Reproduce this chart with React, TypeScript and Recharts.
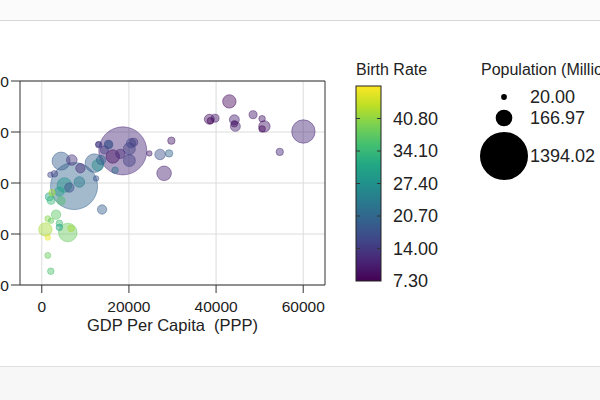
import React from 'react';
import { ScatterChart, Scatter, XAxis, YAxis, ZAxis, CartesianGrid, Cell, ReferenceLine } from 'recharts';

// ---- data ----
const gdpPerCapita = [43050, 38460, 38700, 39770, 44200, 44430, 44200, 48490, 50560, 51090, 50560, 54620, 60040, 18590, 15290, 12990, 14370, 16300, 18040, 20100, 20490, 21110, 20100, 16820, 13610, 12850, 12070, 12460, 24690, 27150, 29220, 29740, 28070, 4430, 6890, 8860, 2890, 1970, 13080, 15380, 7410, 5190, 4040, 6330, 8630, 2360, 1740, 2130, 4430, 13840, 3280, 1380, 2130, 4040, 4040, 830, 5970, 6720, 1380, 1380, 2070];
const lifeExpectancy = [76.0, 72.5, 72.2, 72.7, 72.4, 71.1, 71.6, 73.4, 72.6, 71.1, 70.6, 66.1, 70.1, 66.3, 67.6, 67.6, 66.5, 65.2, 65.7, 66.7, 67.8, 68.0, 64.4, 62.5, 64.5, 63.5, 63.9, 60.9, 65.8, 65.6, 65.8, 68.3, 61.9, 64.3, 64.5, 62.9, 61.8, 61.6, 67.5, 67.5, 59.4, 59.6, 58.3, 59.1, 60.2, 58.1, 57.3, 56.6, 56.5, 54.8, 53.8, 53.0, 52.6, 52.1, 51.3, 50.9, 50.3, 51.1, 49.3, 45.8, 42.7];
const population = [109, 60, 26, 39, 60, 60, 26, 39, 26, 79, 26, 33, 331, 1394.02, 39, 18, 39, 109, 53, 87, 53, 39, 87, 26, 53, 79, 209, 18, 18, 68, 33, 33, 129, 196, 68, 53, 26, 18, 26, 39, 1339, 129, 53, 53, 68, 26, 39, 39, 39, 53, 53, 22, 18, 26, 26, 109, 209, 26, 18, 22, 26];
const birthRate = [8, 9, 7.5, 10, 11, 11, 9, 10, 10, 10, 8, 12, 12, 12, 16, 14, 14, 9, 12, 15, 16, 14, 15, 22, 20, 27, 19, 18, 11, 17, 20, 10, 11, 19, 13, 12, 15, 16, 14, 18, 20, 28, 30, 17, 24, 42, 31, 34, 36, 19, 37, 40, 38, 35, 30, 42, 38, 42, 46, 38, 36];

const xTicks = [0, 20000, 40000, 60000];
const yTicks = [40, 50, 60, 70, 80];
const colorDomain = [7.3, 47.5];
const colorTicks = [7.3, 14.0, 20.7, 27.4, 34.1, 40.8];
const sizeLegendValues = [20.0, 166.97, 1394.02];
const POP_MAX = 1394.02;
const AREA_MAX = 1811; // px^2 for the largest bubble

const viridis = ['#440154', '#482475', '#414487', '#355f8d', '#2a788e', '#21918c', '#22a884', '#44bf70', '#7ad151', '#bddf26', '#fde725'];

function hexToRgb(h: string) {
  return [parseInt(h.slice(1, 3), 16), parseInt(h.slice(3, 5), 16), parseInt(h.slice(5, 7), 16)];
}
function colorFor(v: number) {
  let t = (v - colorDomain[0]) / (colorDomain[1] - colorDomain[0]);
  t = Math.max(0, Math.min(1, t));
  const p = t * (viridis.length - 1);
  const i = Math.min(Math.floor(p), viridis.length - 2);
  const f = p - i;
  const a = hexToRgb(viridis[i]);
  const b = hexToRgb(viridis[i + 1]);
  const c = a.map((x, k) => Math.round(x + (b[k] - x) * f));
  return `rgb(${c[0]},${c[1]},${c[2]})`;
}

const rows = gdpPerCapita
  .map((g, i) => ({ gdp: g, life: lifeExpectancy[i], pop: population[i], br: birthRate[i] }))
  .sort((a, b) => b.pop - a.pop);

const FONT = '"Liberation Sans", Arial, Helvetica, sans-serif';
const AXIS = '#333';

function Legends() {
  const barX = 356, barW = 25, barTop = 86, barBottom = 281;
  const yOf = (v: number) => barBottom - ((v - colorDomain[0]) / (colorDomain[1] - colorDomain[0])) * (barBottom - barTop);
  const rOf = (p: number) => Math.sqrt(((p / POP_MAX) * AREA_MAX) / Math.PI);
  const sizeY = [97, 118, 156];
  return (
    <svg width={600} height={400} style={{ position: 'absolute', left: 0, top: 0, pointerEvents: 'none', fontFamily: FONT }}>
      <defs>
        <linearGradient id="vir" x1="0" y1="1" x2="0" y2="0">
          {viridis.map((c, i) => (
            <stop key={i} offset={`${(i / (viridis.length - 1)) * 100}%`} stopColor={c} />
          ))}
        </linearGradient>
      </defs>
      <text x={356} y={75} fontSize={16} fill="#222">Birth Rate</text>
      <rect x={barX} y={barTop} width={barW} height={barBottom - barTop} fill="url(#vir)" stroke="#222" strokeWidth={1} />
      {colorTicks.map((v, i) => (
        <g key={i}>
          {i > 0 && <line x1={barX} x2={barX + 4} y1={yOf(v)} y2={yOf(v)} stroke="#333" strokeWidth={1} />}
          {i > 0 && <line x1={barX + barW - 4} x2={barX + barW} y1={yOf(v)} y2={yOf(v)} stroke="#333" strokeWidth={1} />}
          <text x={393} y={yOf(v)} dy="0.36em" fontSize={18} fill="#222">{v.toFixed(2)}</text>
        </g>
      ))}
      <text x={481} y={75} fontSize={16} fill="#222">Population (Millions)</text>
      {sizeLegendValues.map((v, i) => (
        <g key={i}>
          <circle cx={504} cy={sizeY[i]} r={rOf(v)} fill="#000" />
          <text x={530} y={sizeY[i]} dy="0.36em" fontSize={18} fill="#222">{v.toFixed(2)}</text>
        </g>
      ))}
    </svg>
  );
}

export default function App() {
  return (
    <div style={{ position: 'fixed', left: 0, top: 0, width: 600, height: 400, background: '#fff', overflow: 'hidden', fontFamily: FONT }}>
      <div style={{ position: 'absolute', left: 0, top: 0, width: 600, height: 20, background: '#fbfbfb', borderBottom: '1px solid #d6d6d6' }} />
      <div style={{ position: 'absolute', left: 0, top: 366, width: 600, height: 34, background: '#f7f7f7', borderTop: '1px solid #e0e0e0' }} />
      <div style={{ position: 'absolute', left: -40, top: 0 }}>
        <ScatterChart width={380} height={340} margin={{ top: 81, right: 15, bottom: 5, left: 0 }}>
          <CartesianGrid stroke="#dcdcdc" strokeWidth={1} horizontalValues={yTicks} verticalValues={xTicks} />
          <XAxis
            type="number"
            dataKey="gdp"
            domain={[-5000, 65000]}
            ticks={xTicks}
            allowDataOverflow
            height={50}
            tickSize={8}
            tickMargin={8}
            stroke={AXIS}
            tick={{ fill: '#222', fontSize: 15.5, fontFamily: FONT }}
            label={{ value: 'GDP Per Capita \u00A0(PPP)', position: 'insideBottom', offset: 4, fill: '#222', fontSize: 16.5, fontFamily: FONT }}
          />
          <YAxis
            type="number"
            dataKey="life"
            domain={[40, 80]}
            ticks={yTicks}
            allowDataOverflow
            width={60}
            tickSize={9}
            tickMargin={2}
            stroke={AXIS}
            tick={{ fill: '#222', fontSize: 15.5, fontFamily: FONT }}
          />
          <ZAxis type="number" dataKey="pop" domain={[0, POP_MAX]} range={[0, AREA_MAX]} />
          <ReferenceLine y={80} stroke={AXIS} strokeWidth={1} />
          <ReferenceLine x={65000} stroke={AXIS} strokeWidth={1} />
          <Scatter data={rows} isAnimationActive={false}>
            {rows.map((r, i) => (
              <Cell key={i} fill={colorFor(r.br)} fillOpacity={0.45} stroke={colorFor(r.br)} strokeOpacity={0.6} strokeWidth={0.8} />
            ))}
          </Scatter>
        </ScatterChart>
      </div>
      <Legends />
    </div>
  );
}
